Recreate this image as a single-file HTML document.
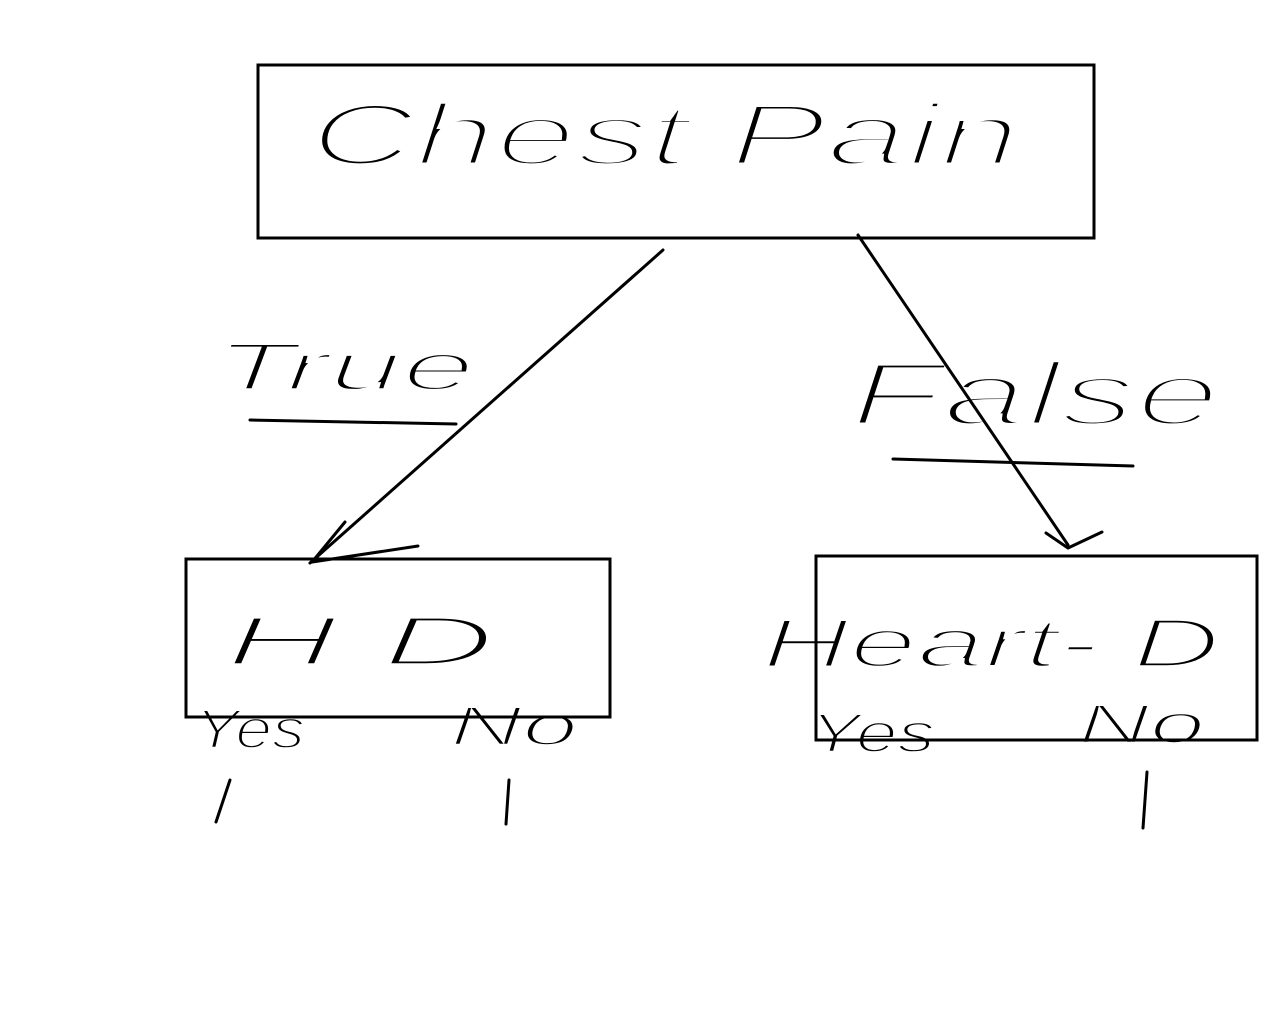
<!DOCTYPE html>
<html><head><meta charset="utf-8"><style>
html,body{margin:0;padding:0;background:#fff;}
svg{display:block}
text{font-family:"Liberation Sans",sans-serif;font-style:italic;fill:#000;stroke:#fff;paint-order:fill stroke;}
</style></head><body>
<svg width="1280" height="1024" viewBox="0 0 1280 1024" xmlns="http://www.w3.org/2000/svg">
<text x="310" y="165" font-size="88" stroke-width="5" textLength="710" lengthAdjust="spacingAndGlyphs">Chest Pain</text>
<text x="215" y="390" font-size="68" stroke-width="3.5" textLength="260" lengthAdjust="spacingAndGlyphs">True</text>
<text x="850" y="425" font-size="90" stroke-width="5" textLength="370" lengthAdjust="spacingAndGlyphs">False</text>
<text x="225" y="665" font-size="70" stroke-width="3.5" textLength="270" lengthAdjust="spacingAndGlyphs">H D</text>
<text x="762" y="667" font-size="70" stroke-width="3.5" textLength="458" lengthAdjust="spacingAndGlyphs">Heart- D</text>
<text x="195" y="748" font-size="56" stroke-width="2.5" textLength="110" lengthAdjust="spacingAndGlyphs">Yes</text>
<text x="450" y="745" font-size="56" stroke-width="2.5" textLength="128" lengthAdjust="spacingAndGlyphs">No</text>
<text x="810" y="752" font-size="56" stroke-width="2.5" textLength="125" lengthAdjust="spacingAndGlyphs">Yes</text>
<text x="1078" y="743" font-size="56" stroke-width="2.5" textLength="127" lengthAdjust="spacingAndGlyphs">No</text>
<g fill="none" stroke="#000" stroke-width="3" stroke-linecap="round">
<rect x="258" y="65" width="836" height="173"/>
<rect x="186" y="559" width="424" height="158"/>
<rect x="816" y="556" width="441" height="184"/>
<line x1="663" y1="250" x2="310" y2="563"/>
<path d="M345 522 L312 562 L418 546"/>
<line x1="858" y1="235" x2="1068" y2="545"/>
<path d="M1046 533 L1068 548 L1102 532"/>
<line x1="250" y1="420" x2="456" y2="424"/>
<line x1="893" y1="459" x2="1133" y2="466"/>
<path d="M230 780 L216 822"/>
<path d="M509 780 L506 824"/>
<path d="M1147 772 L1143 828"/>
</g>
</svg>
</body></html>
